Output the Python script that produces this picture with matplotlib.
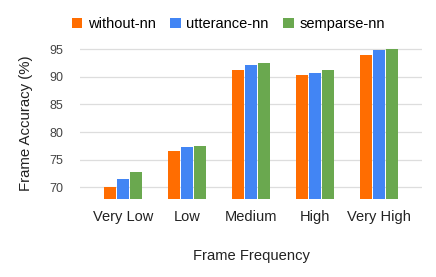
import matplotlib
matplotlib.use("Agg")
import matplotlib.pyplot as plt
import numpy as np

categories = ["Very Low", "Low", "Medium", "High", "Very High"]
series_names = ["without-nn", "utterance-nn", "semparse-nn"]
without_nn = [70.0, 76.5, 91.3, 90.4, 93.9]
utterance_nn = [71.6, 77.3, 92.2, 90.6, 94.9]
semparse_nn = [72.7, 77.4, 92.4, 91.2, 95.0]
y_ticks = [70, 75, 80, 85, 90, 95]

colors = ["#FF6D01", "#4285F4", "#6AA84F"]

plt.rcParams['font.family'] = ['Liberation Sans', 'DejaVu Sans']

fig = plt.figure(figsize=(4.36, 2.77), dpi=100)
ax = fig.add_axes([80 / 436, 1 - 199 / 277, 342 / 436, 151 / 277])

x = np.arange(len(categories))
step = 0.208
width = 0.19
for i, (name, vals) in enumerate(zip(series_names, [without_nn, utterance_nn, semparse_nn])):
    ax.bar(x + (i - 1) * step, vals, width=width, color=colors[i], label=name,
           bottom=0, zorder=3)

ax.set_ylim(67.9, 95.2)
ax.set_xlim(-0.67, 4.67)
ax.set_yticks(y_ticks)
ax.set_xticks(x)
ax.set_xticklabels(categories, fontsize=10.5, color="#222222")
ax.tick_params(axis='y', labelsize=9, colors="#444444", length=0, pad=12)
ax.tick_params(axis='x', length=0, pad=8)
ax.grid(axis='y', color="#DDDDDD", linewidth=0.9, zorder=0)
for s in ax.spines.values():
    s.set_visible(False)

ax.set_ylabel("Frame Accuracy (%)", fontsize=10.8, color="#222222", labelpad=12)
ax.set_xlabel("Frame Frequency", fontsize=10.6, color="#222222", labelpad=18)

leg = fig.legend(loc='center left', bbox_to_anchor=(66 / 436, 1 - 24 / 277), ncol=3,
                 frameon=False, fontsize=10.5, handlelength=0.7, handleheight=0.7,
                 handletextpad=0.4, columnspacing=1.0, borderaxespad=0)

fig.savefig("out.png", dpi=100, facecolor="white")
